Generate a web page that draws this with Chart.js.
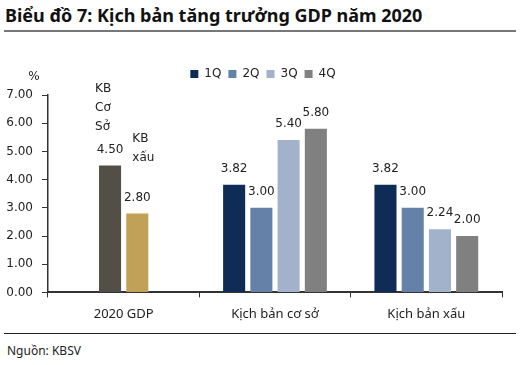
<!DOCTYPE html>
<html>
<head>
<meta charset="utf-8">
<script src="https://cdn.jsdelivr.net/npm/chart.js@4.4.1/dist/chart.umd.min.js"></script>
<style>
  body { margin: 0; width: 523px; height: 365px; background: #fff; position: relative; overflow: hidden; font-family: "Noto Sans", sans-serif; }
  #title { position: absolute; left: 5px; top: 3px; font-size: 18px; font-weight: bold; color: #111; }
  #topline { position: absolute; left: 4px; top: 30px; width: 512px; height: 2px; background: #777; }
  #botline { position: absolute; left: 4px; top: 333px; width: 512px; height: 1px; background: #222; }
  #source { position: absolute; left: 7px; top: 342px; font-size: 12px; color: #222; }
  #wrap { position: absolute; left: 0; top: 39px; width: 523px; height: 292px; }
</style>
</head>
<body>
<div id="title">Biểu đồ 7: Kịch bản tăng trưởng GDP năm 2020</div>
<div id="topline"></div>
<div id="wrap"><canvas id="chart"></canvas></div>
<div id="botline"></div>
<div id="source">Nguồn: KBSV</div>
<script>
// categories and values
const categories = ['2020 GDP', 'Kịch bản cơ sở', 'Kịch bản xấu'];
const gdpBase = [4.50, null, null];   // KB Cơ Sở
const gdpBad = [2.80, null, null];    // KB xấu
const q1 = [null, 3.82, 3.82];
const q2 = [null, 3.00, 3.00];
const q3 = [null, 5.40, 2.24];
const q4 = [null, 5.80, 2.00];
const yTicks = [0, 1, 2, 3, 4, 5, 6, 7];

const labelFont = '12px "DejaVu Sans"';

// value labels above bars, plus the "KB Cơ Sở" / "KB xấu" notes
const valueLabels = {
    id: 'valueLabels',
    afterInit(chart) {
        // a little more room under the legend
        const legend = chart.legend;
        const fit = legend.fit.bind(legend);
        legend.fit = function() { fit(); this.height += 5; };
    },
    afterLayout(chart) {
        // legend sits a bit right of centre in the original
        chart.legend.left += 12;
        chart.legend.right += 12;
    },
    afterDatasetsDraw(chart) {
        const ctx = chart.ctx;
        ctx.save();
        ctx.font = labelFont;
        ctx.fillStyle = '#222';
        ctx.textAlign = 'center';
        ctx.textBaseline = 'middle';
        chart.data.datasets.forEach((ds, i) => {
            const meta = chart.getDatasetMeta(i);
            meta.data.forEach((bar, j) => {
                const v = ds.data[j];
                if (v === null) return;
                ctx.fillText(v.toFixed(2), bar.x, bar.y - 16);
                if (ds.note) {
                    ctx.textAlign = 'left';
                    const n = ds.note.length;
                    ds.note.forEach((t, k) => {
                        ctx.fillText(t, bar.x + ds.noteDx, bar.y - 16 - ds.noteGap - 19 * (n - 1 - k));
                    });
                    ctx.textAlign = 'center';
                }
            });
        });
        // % unit label
        const y = chart.scales.y;
        ctx.fillText('%', y.right - 14, y.top - 18);
        ctx.restore();
    }
};

new Chart(document.getElementById('chart'), {
    type: 'bar',
    data: {
        labels: categories,
        datasets: [
            { label: 'KB Cơ Sở', data: gdpBase, backgroundColor: '#544f46', note: ['KB', 'Cơ', 'Sở'], noteDx: -15, noteGap: 23, categoryPercentage: 0.36 },
            { label: 'KB xấu', data: gdpBad, backgroundColor: '#c1a155', note: ['KB', 'xấu'], noteDx: -5, noteGap: 40, categoryPercentage: 0.36 },
            { label: '1Q', data: q1, backgroundColor: '#0e2c56' },
            { label: '2Q', data: q2, backgroundColor: '#6482a7' },
            { label: '3Q', data: q3, backgroundColor: '#a3b2cb' },
            { label: '4Q', data: q4, backgroundColor: '#808080' }
        ]
    },
    options: {
        responsive: true,
        maintainAspectRatio: false,
        animation: false,
        skipNull: true,
        categoryPercentage: 0.72,
        barPercentage: 0.81,
        layout: { padding: { top: 22, right: 21, left: 0, bottom: 0 } },
        plugins: {
            legend: {
                position: 'top',
                labels: {
                    filter: item => ['1Q', '2Q', '3Q', '4Q'].includes(item.text),
                    boxWidth: 8,
                    boxHeight: 8,
                    padding: 7,
                    color: '#222',
                    font: { family: 'DejaVu Sans', size: 12 }
                }
            },
            tooltip: { enabled: false }
        },
        scales: {
            x: {
                grid: { offset: true, drawOnChartArea: false, drawTicks: true, tickLength: 5, color: '#333' },
                border: { color: '#333', width: 2 },
                ticks: { color: '#222', padding: 9, font: { family: 'Noto Sans', size: 13 } }
            },
            y: {
                min: 0,
                max: 7,
                afterFit: s => { s.width = 48; },
                afterBuildTicks: s => { s.ticks = yTicks.map(v => ({ value: v })); },
                grid: { drawOnChartArea: false, tickLength: 6, color: '#333' },
                border: { color: '#333', width: 1.5 },
                ticks: {
                    color: '#222',
                    padding: 9,
                    font: { family: 'DejaVu Sans', size: 12 },
                    callback: v => v.toFixed(2)
                }
            }
        }
    },
    plugins: [valueLabels]
});
</script>
</body>
</html>
